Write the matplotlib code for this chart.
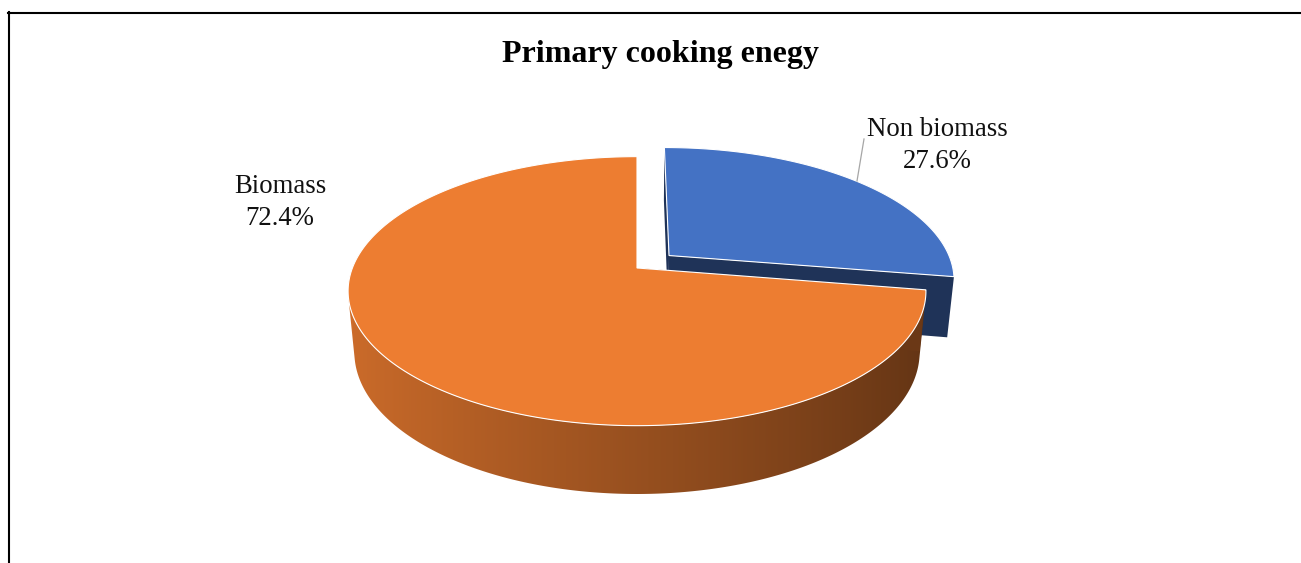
import numpy as np
import matplotlib.pyplot as plt
from matplotlib.patches import Polygon
from matplotlib.colors import to_rgb

categories = ["Non biomass", "Biomass"]
shares = [27.6, 72.4]
slice_colors = ["#4472C4", "#ED7D31"]
explode = [0.15, 0.0]
title = "Primary cooking enegy"

# canvas in pixel units
W, H = 1301, 563

# 3d view of the pie
CX, CY = 637, 268          # screen position of the pie centre
FOCAL, DIST = 1470, 5.165
ELEV = np.radians(27.3)
THICK = 0.243
START = 90.0

SERIF = ["Liberation Serif", "DejaVu Serif"]


def project(x, y, z):
    """Perspective projection of disk coords (y away from viewer, z up)."""
    s, c = np.sin(ELEV), np.cos(ELEV)
    depth = DIST + y * c - z * s
    sx = CX + FOCAL * x / depth
    sy = CY - FOCAL * (y * s + z * c) / depth
    return sx, sy, depth


def poly3d(xs, ys, zs):
    px, py, d = project(np.asarray(xs, float), np.asarray(ys, float), np.asarray(zs, float))
    return np.column_stack([px, py]), d.mean()


def side_shade(t):
    # t ~ cos(angle) of the rim: lit from the left, dark on the right
    return 0.64 - 0.23 * t


fig = plt.figure(figsize=(W / 100, H / 100), dpi=100)
ax = fig.add_axes([0, 0, 1, 1])
ax.axis('off')

fracs = np.array(shares) / np.sum(shares)
bounds = START - 360 * np.concatenate([[0], np.cumsum(fracs)])

slices = []
for i in range(len(shares)):
    a1, a2 = np.radians(bounds[i]), np.radians(bounds[i + 1])
    mid = (a1 + a2) / 2
    slices.append((i, a1, a2, mid))
# far slices first
slices.sort(key=lambda t: -np.sin(t[3]))

cam_y = -DIST * np.cos(ELEV)
z = 1
for i, a1, a2, mid in slices:
    base = np.array(to_rgb(slice_colors[i]))
    ox, oy = explode[i] * np.cos(mid), explode[i] * np.sin(mid)
    n = int(abs(np.degrees(a1 - a2))) * 4 + 2
    phi = np.linspace(a1, a2, n)
    rx, ry = ox + np.cos(phi), oy + np.sin(phi)

    # curved rim, only the part facing the camera
    facing = np.sin(phi) * cam_y - (1 + ox * np.cos(phi) + oy * np.sin(phi)) > 0
    if facing.sum() > 1:
        vx, vy = rx[facing], ry[facing]
        top, _ = poly3d(vx, vy, np.zeros(len(vx)))
        bot, _ = poly3d(vx, vy, np.full(len(vx), -THICK))
        rim = np.vstack([top, bot[::-1]])
        front = np.linspace(np.pi, 2 * np.pi, 400)
        fx, _, _ = project(ox + np.cos(front), oy + np.sin(front), np.zeros(400))
        cols = np.arange(int(rim[:, 0].min()) - 2, int(rim[:, 0].max()) + 3)
        shade = side_shade(np.interp(cols, fx, np.cos(front)))
        img = np.clip(base[None, None, :] * shade[None, :, None], 0, 1)
        im = ax.imshow(img, extent=(cols[0], cols[-1], rim[:, 1].max() + 2, rim[:, 1].min() - 2),
                       aspect='auto', interpolation='bilinear', zorder=z)
        clip = Polygon(rim, closed=True, facecolor='none', edgecolor='none', zorder=z)
        ax.add_patch(clip)
        im.set_clip_path(clip)
        z += 1

    # radial cut faces
    faces = []
    for a in (a1, a2):
        poly, d = poly3d([ox, ox + np.cos(a), ox + np.cos(a), ox],
                         [oy, oy + np.sin(a), oy + np.sin(a), oy],
                         [0, 0, -THICK, -THICK])
        faces.append((d, poly))
    faces.sort(key=lambda f: -f[0])
    for d, poly in faces:
        ax.add_patch(Polygon(poly, closed=True, facecolor=base * 0.45,
                             edgecolor='none', zorder=z))
        z += 1

    # top face
    tx = np.concatenate([[ox], rx])
    ty = np.concatenate([[oy], ry])
    px, py, _ = project(tx, ty, np.zeros_like(tx))
    ax.fill(px, py, facecolor=slice_colors[i], edgecolor='white', lw=0.8, zorder=z)
    z += 1

# data labels (y = baseline of the percentage line)
label_pos = {"Non biomass": (937, 168), "Biomass": (280, 225)}
for cat, val in zip(categories, shares):
    x, y = label_pos[cat]
    ax.text(x, y, f"{cat}\n{val:.1f}%", ha='center', va='baseline',
            fontsize=19.3, family=SERIF, color='#111111', linespacing=1.38, zorder=z)
# leader line for the exploded slice
ax.plot([864, 857], [139, 181], color='#A6A6A6', lw=0.9, zorder=z)

ax.text(660, 62, title, ha='center', va='baseline', fontsize=23,
        fontweight='bold', family=SERIF)

# chart frame (top and left only visible)
ax.plot([8, W], [13, 13], color='black', lw=1.5, clip_on=False)
ax.plot([9, 9], [12, H], color='black', lw=1.5, clip_on=False)

ax.set_xlim(0, W)
ax.set_ylim(H, 0)

fig.savefig("out.png", dpi=100)
